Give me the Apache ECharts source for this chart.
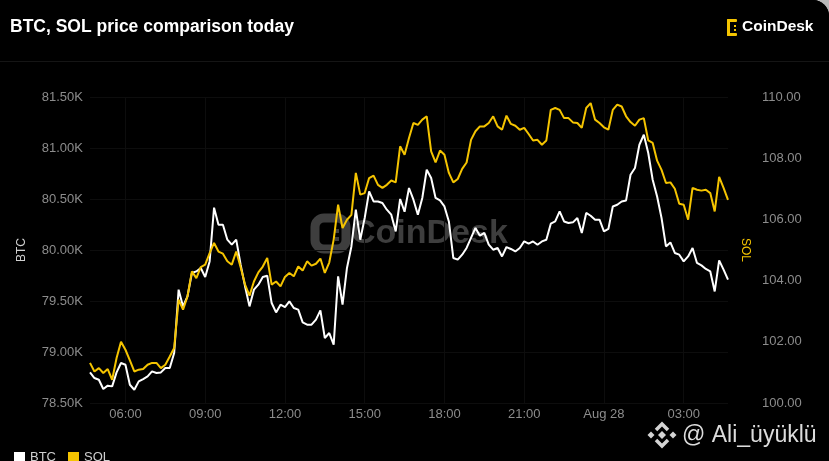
<!DOCTYPE html>
<html>
<head>
<meta charset="utf-8">
<script src="https://cdn.jsdelivr.net/npm/echarts@6/dist/echarts.min.js"></script>
<style>
  html, body { margin: 0; padding: 0; background: #b8b8b8; }
  #chart { width: 829px; height: 461px; background: #000; border-top-right-radius: 16px; overflow: hidden; }
</style>
</head>
<body>
<div id="chart"></div>
<script>
// ---- data (10-minute samples, Aug 27 04:40 -> Aug 28 04:40) ----
const startMinute = 4 * 60 + 40;
const stepMinutes = 10;
const xTickLabels = { '06:00': '06:00', '09:00': '09:00', '12:00': '12:00', '15:00': '15:00',
                      '18:00': '18:00', '21:00': '21:00', '00:00': 'Aug 28', '03:00': '03:00' };
const btcTicks = [78500, 79000, 79500, 80000, 80500, 81000, 81500];
const solTicks = [100, 102, 104, 106, 108, 110];

const btcValues = [78800,78745,78728,78637,78670,78663,78800,78892,78875,78679,
78630,78712,78735,78761,78810,78794,78800,78843,78843,78990,
79611,79447,79545,79775,79790,79824,79735,79888,80415,80248,
80248,80101,80052,80101,79856,79643,79447,79611,79660,79735,
79748,79480,79388,79464,79441,79496,79431,79415,79290,79268,
79268,79317,79408,79137,79186,79072,79741,79464,79824,80035,
80395,80101,80314,80575,80476,80476,80461,80395,80346,80182,
80500,80375,80608,80493,80346,80510,80787,80706,80510,80486,
80427,80280,79922,79905,79954,80020,80118,80216,80140,80167,
80052,80003,80020,79937,80029,80010,79986,80020,80084,80062,
80084,80052,80084,80101,80258,80280,80378,80280,80265,80271,
80314,80167,80363,80336,80297,80297,80182,80206,80427,80444,
80476,80486,80738,80804,81032,81130,80951,80689,80525,80314,
80035,80074,79971,79954,79888,79937,80020,79873,79849,79814,
79790,79594,79898,79807,79709];

const solValues = [101.31,101.03,101.14,100.98,101.11,100.76,101.47,102.00,101.74,101.39,
101.03,101.09,101.11,101.25,101.31,101.31,101.14,101.25,101.52,101.80,
103.38,103.05,103.48,104.30,104.08,104.44,104.52,104.90,105.23,104.95,
104.88,104.63,104.52,104.95,104.44,103.87,103.51,103.97,104.27,104.46,
104.74,103.87,103.97,103.81,104.12,104.25,104.14,104.46,104.33,104.63,
104.49,104.55,104.72,104.25,104.59,105.34,106.48,105.72,105.99,106.15,
107.52,106.81,106.86,107.35,107.43,107.13,107.03,107.13,107.27,107.21,
108.39,108.11,108.66,109.15,109.09,109.26,109.37,108.22,107.86,108.25,
108.11,107.52,107.21,107.32,107.65,107.86,108.60,108.88,109.04,109.04,
109.15,109.37,109.04,108.93,109.39,109.12,109.06,108.93,108.99,108.79,
108.58,108.60,108.44,108.58,109.58,109.64,109.58,109.31,109.31,109.17,
109.15,108.99,109.64,109.80,109.26,109.15,109.01,108.93,109.58,109.75,
109.69,109.37,109.18,109.06,109.26,109.31,108.58,108.50,107.92,107.62,
107.19,107.21,107.00,106.51,106.48,105.99,107.03,106.97,106.94,106.97,
106.86,106.26,107.39,107.03,106.64];

const categories = btcValues.map((_, i) => {
  const m = (startMinute + i * stepMinutes) % 1440;
  return String(Math.floor(m / 60)).padStart(2, '0') + ':' + String(m % 60).padStart(2, '0');
});

const FONT = "'Liberation Sans', Arial, sans-serif";
const YELLOW = '#f5c400';
const GRIDLINE = '#0d0d0d';
const isTick = (i, v) => Object.prototype.hasOwnProperty.call(xTickLabels, v);

const chart = echarts.init(document.getElementById('chart'), null, { renderer: 'canvas' });
chart.setOption({
  backgroundColor: '#000',
  animation: false,
  textStyle: { fontFamily: FONT },
  grid: { left: 90, right: 101, top: 97, bottom: 58 },
  legend: {
    left: 9, top: 446, icon: 'rect', itemWidth: 11, itemHeight: 11, itemGap: 12,
    textStyle: { color: '#cfcfcf', fontSize: 13, fontFamily: FONT },
    data: ['BTC', 'SOL']
  },
  xAxis: {
    type: 'category', data: categories, boundaryGap: false,
    axisLine: { show: false }, axisTick: { show: false },
    axisLabel: { interval: isTick, formatter: v => xTickLabels[v], color: '#8c8c8c', fontSize: 13, margin: 5 },
    splitLine: { show: true, interval: isTick, lineStyle: { color: GRIDLINE, width: 1 } }
  },
  yAxis: [
    {
      type: 'value', min: btcTicks[0], max: btcTicks[btcTicks.length - 1], interval: 500, position: 'left',
      name: 'BTC', nameLocation: 'middle', nameGap: 62, nameRotate: 90,
      nameTextStyle: { color: '#d0d0d0', fontSize: 12 },
      axisLine: { show: false }, axisTick: { show: false },
      axisLabel: { formatter: v => (v / 1000).toFixed(2) + 'K', color: '#8c8c8c', fontSize: 13, margin: 7 },
      splitLine: { show: true, lineStyle: { color: GRIDLINE, width: 1 } }
    },
    {
      type: 'value', min: solTicks[0], max: solTicks[solTicks.length - 1], interval: 2, position: 'right',
      axisLine: { show: false }, axisTick: { show: false },
      axisLabel: { formatter: v => v.toFixed(2), color: '#8c8c8c', fontSize: 13, margin: 34 },
      splitLine: { show: false }
    }
  ],
  series: [
    { name: 'BTC', type: 'line', yAxisIndex: 0, data: btcValues, showSymbol: false, symbol: 'none',
      lineStyle: { color: '#ffffff', width: 2 }, itemStyle: { color: '#ffffff' }, z: 3 },
    { name: 'SOL', type: 'line', yAxisIndex: 1, data: solValues, showSymbol: false, symbol: 'none',
      lineStyle: { color: YELLOW, width: 2 }, itemStyle: { color: YELLOW }, z: 4 }
  ],
  graphic: [
    { type: 'rect', shape: { x: 0, y: 61, width: 829, height: 1 }, style: { fill: '#151515' }, silent: true },
    { type: 'text', x: 10, y: 27, style: { text: 'BTC, SOL price comparison today', fill: '#ffffff',
      font: 'bold 17.5px ' + FONT, textAlign: 'left', textVerticalAlign: 'middle' } },
    // CoinDesk logo (top right)
    { type: 'group', children: [
      { type: 'rect', shape: { x: 727, y: 19, width: 3, height: 17, r: 1 }, style: { fill: YELLOW } },
      { type: 'rect', shape: { x: 727, y: 19, width: 10, height: 3, r: 1 }, style: { fill: YELLOW } },
      { type: 'rect', shape: { x: 727, y: 33, width: 10, height: 3, r: 1 }, style: { fill: YELLOW } },
      { type: 'rect', shape: { x: 734, y: 25, width: 2, height: 2 }, style: { fill: YELLOW } },
      { type: 'rect', shape: { x: 734, y: 29, width: 2, height: 2 }, style: { fill: YELLOW } }
    ] },
    { type: 'text', x: 742, y: 27, style: { text: 'CoinDesk', fill: '#ffffff',
      font: 'bold 15.5px ' + FONT, textAlign: 'left', textVerticalAlign: 'middle' } },
    // centre watermark
    { type: 'group', z: 0, children: [
      { type: 'rect', shape: { x: 315, y: 218, width: 31, height: 31, r: 9 }, style: { fill: 'none', stroke: '#3e3e3e', lineWidth: 9 } },
      { type: 'rect', shape: { x: 335, y: 229, width: 4, height: 4 }, style: { fill: '#3e3e3e' } },
      { type: 'rect', shape: { x: 335, y: 237, width: 4, height: 4 }, style: { fill: '#3e3e3e' } },
      { type: 'text', x: 351, y: 234, style: { text: 'CoinDesk', fill: '#3e3e3e',
        font: 'bold 34px ' + FONT, textAlign: 'left', textVerticalAlign: 'middle' } }
    ] },
    // SOL axis name
    { type: 'text', x: 745, y: 250, rotation: -Math.PI / 2, style: { text: 'SOL', fill: YELLOW,
      font: '12px ' + FONT, textAlign: 'center', textVerticalAlign: 'middle' } },
    // bottom-right watermark
    { type: 'group', children: [
      { type: 'polygon', shape: { points: [[662, 431], [666, 435], [662, 439], [658, 435]] }, style: { fill: '#d4d4d4' } },
      { type: 'polygon', shape: { points: [[651, 431.5], [654.5, 435], [651, 438.5], [647.5, 435]] }, style: { fill: '#d4d4d4' } },
      { type: 'polygon', shape: { points: [[673, 431.5], [676.5, 435], [673, 438.5], [669.5, 435]] }, style: { fill: '#d4d4d4' } },
      { type: 'polyline', shape: { points: [[656, 430], [662, 424], [668, 430]] }, style: { stroke: '#d4d4d4', lineWidth: 3.5, fill: 'none' } },
      { type: 'polyline', shape: { points: [[656, 440], [662, 446], [668, 440]] }, style: { stroke: '#d4d4d4', lineWidth: 3.5, fill: 'none' } }
    ] },
    { type: 'text', x: 682, y: 436, style: { text: '@ Ali_üyüklü', fill: '#dcdcdc',
      font: '23px ' + FONT, textAlign: 'left', textVerticalAlign: 'middle' } }
  ]
});
</script>
</body>
</html>
